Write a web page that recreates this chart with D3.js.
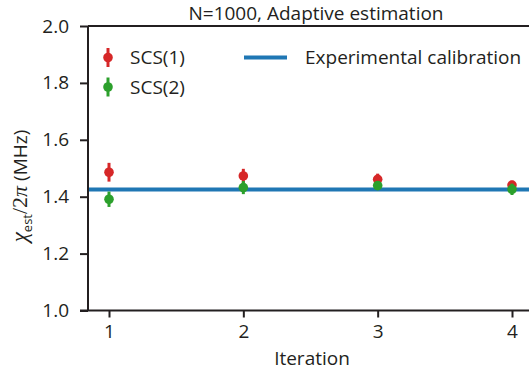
<!DOCTYPE html>
<html>
<head>
<meta charset="utf-8">
<script src="https://cdn.jsdelivr.net/npm/d3@7"></script>
<style>
  html, body { margin: 0; padding: 0; background: #fff; }
  svg { display: block; font-family: "Open Sans", "Noto Sans", sans-serif; }
</style>
</head>
<body>
<svg id="chart" width="529" height="372"></svg>
<script>
// Iterations of the adaptive estimation
const iterations = [1, 2, 3, 4];
// SCS(1) estimates and their uncertainties (MHz)
const scs1Values = [1.486, 1.473, 1.461, 1.441];
const scs1Errors = [0.033, 0.025, 0.020, 0.015];
// SCS(2) estimates and their uncertainties (MHz)
const scs2Values = [1.391, 1.432, 1.439, 1.426];
const scs2Errors = [0.027, 0.023, 0.015, 0.020];
// Reference value from experimental calibration (MHz)
const calibration = 1.425;
const yTicks = [1.0, 1.2, 1.4, 1.6, 1.8, 2.0];
const xTicks = [1, 2, 3, 4];

const svg = d3.select("#chart");
const plotLeft = 88, plotTop = 26, plotBottom = 310.5;

const x = d3.scaleLinear().domain([1, 4]).range([109, 512]);
const y = d3.scaleLinear().domain([1.0, 2.0]).range([plotBottom, plotTop]);

const axisColor = "#231f20";
const fontSize = 19;

// Axes
const yAxis = svg.append("g")
  .attr("transform", `translate(${plotLeft},0)`)
  .call(d3.axisLeft(y).tickValues(yTicks).tickFormat(d3.format(".1f")).tickSize(8).tickPadding(11));
const xAxis = svg.append("g")
  .attr("transform", `translate(0,${plotBottom})`)
  .call(d3.axisBottom(x).tickValues(xTicks).tickFormat(d3.format("d")).tickSize(7).tickPadding(4));
[yAxis, xAxis].forEach(g => {
  g.select(".domain").remove();
  g.selectAll("line").attr("stroke", axisColor).attr("stroke-width", 2);
  g.selectAll("text").attr("fill", axisColor).attr("font-size", fontSize)
    .attr("font-family", "'Open Sans', sans-serif");
});
xAxis.selectAll("text").attr("dy", "0.85em");

// Spines: left, bottom and top
svg.append("line").attr("x1", plotLeft).attr("x2", plotLeft).attr("y1", plotTop).attr("y2", plotBottom)
  .attr("stroke", axisColor).attr("stroke-width", 2);
svg.append("line").attr("x1", plotLeft - 8).attr("x2", 529).attr("y1", plotBottom).attr("y2", plotBottom)
  .attr("stroke", axisColor).attr("stroke-width", 2);
svg.append("line").attr("x1", plotLeft).attr("x2", 529).attr("y1", plotTop).attr("y2", plotTop)
  .attr("stroke", axisColor).attr("stroke-width", 2);

// Calibration line
svg.append("line")
  .attr("x1", plotLeft + 1).attr("x2", 529)
  .attr("y1", y(calibration)).attr("y2", y(calibration))
  .attr("stroke", "#1f77b4").attr("stroke-width", 4);

// Error-bar series
const series = [
  { name: "SCS(1)", color: "#d62728", values: scs1Values, errors: scs1Errors },
  { name: "SCS(2)", color: "#2ca02c", values: scs2Values, errors: scs2Errors }
];
series.forEach(s => {
  const g = svg.append("g");
  const pts = iterations.map((it, i) => ({ it, v: s.values[i], e: s.errors[i] }));
  g.selectAll("line.err").data(pts).join("line")
    .attr("x1", d => x(d.it)).attr("x2", d => x(d.it))
    .attr("y1", d => y(d.v - d.e)).attr("y2", d => y(d.v + d.e))
    .attr("stroke", s.color).attr("stroke-width", 3);
  g.selectAll("circle").data(pts).join("circle")
    .attr("cx", d => x(d.it)).attr("cy", d => y(d.v)).attr("r", 4.8)
    .attr("fill", s.color);
});

// Legend
const legendItems = [
  { x: 108, y: 57.5, s: series[0] },
  { x: 108, y: 87, s: series[1] }
];
legendItems.forEach(d => {
  svg.append("line").attr("x1", d.x).attr("x2", d.x).attr("y1", d.y - 9.5).attr("y2", d.y + 9.5)
    .attr("stroke", d.s.color).attr("stroke-width", 3);
  svg.append("circle").attr("cx", d.x).attr("cy", d.y).attr("r", 4.8).attr("fill", d.s.color);
  svg.append("text").attr("x", 130).attr("y", d.y).attr("dy", "0.36em")
    .attr("font-size", fontSize).attr("fill", axisColor).text(d.s.name);
});
svg.append("line").attr("x1", 244).attr("x2", 287).attr("y1", 57.5).attr("y2", 57.5)
  .attr("stroke", "#1f77b4").attr("stroke-width", 4);
svg.append("text").attr("x", 305).attr("y", 57.5).attr("dy", "0.36em")
  .attr("font-size", fontSize).attr("fill", axisColor).text("Experimental calibration");

// Title
svg.append("text").attr("x", 316).attr("y", 19.5).attr("text-anchor", "middle")
  .attr("font-size", 19).attr("fill", axisColor).text("N=1000, Adaptive estimation");

// X label
svg.append("text").attr("x", 312).attr("y", 365).attr("text-anchor", "middle")
  .attr("font-size", fontSize).attr("fill", axisColor).text("Iteration");

// Y label
const yl = svg.append("text")
  .attr("transform", "translate(27,186) rotate(-90)")
  .attr("text-anchor", "middle").attr("font-size", fontSize).attr("fill", axisColor);
yl.append("tspan").attr("font-family", "'Liberation Serif', serif").attr("font-style", "italic")
  .attr("font-size", 23).text("χ");
yl.append("tspan").attr("font-size", 13).attr("dy", 5).text("est");
yl.append("tspan").attr("dy", -5).attr("font-family", "'Liberation Serif', serif")
  .attr("font-size", 22).text("/2");
yl.append("tspan").attr("font-family", "'Liberation Serif', serif").attr("font-style", "italic")
  .attr("font-size", 22).text("π");
yl.append("tspan").text(" (MHz)");
</script>
</body>
</html>
